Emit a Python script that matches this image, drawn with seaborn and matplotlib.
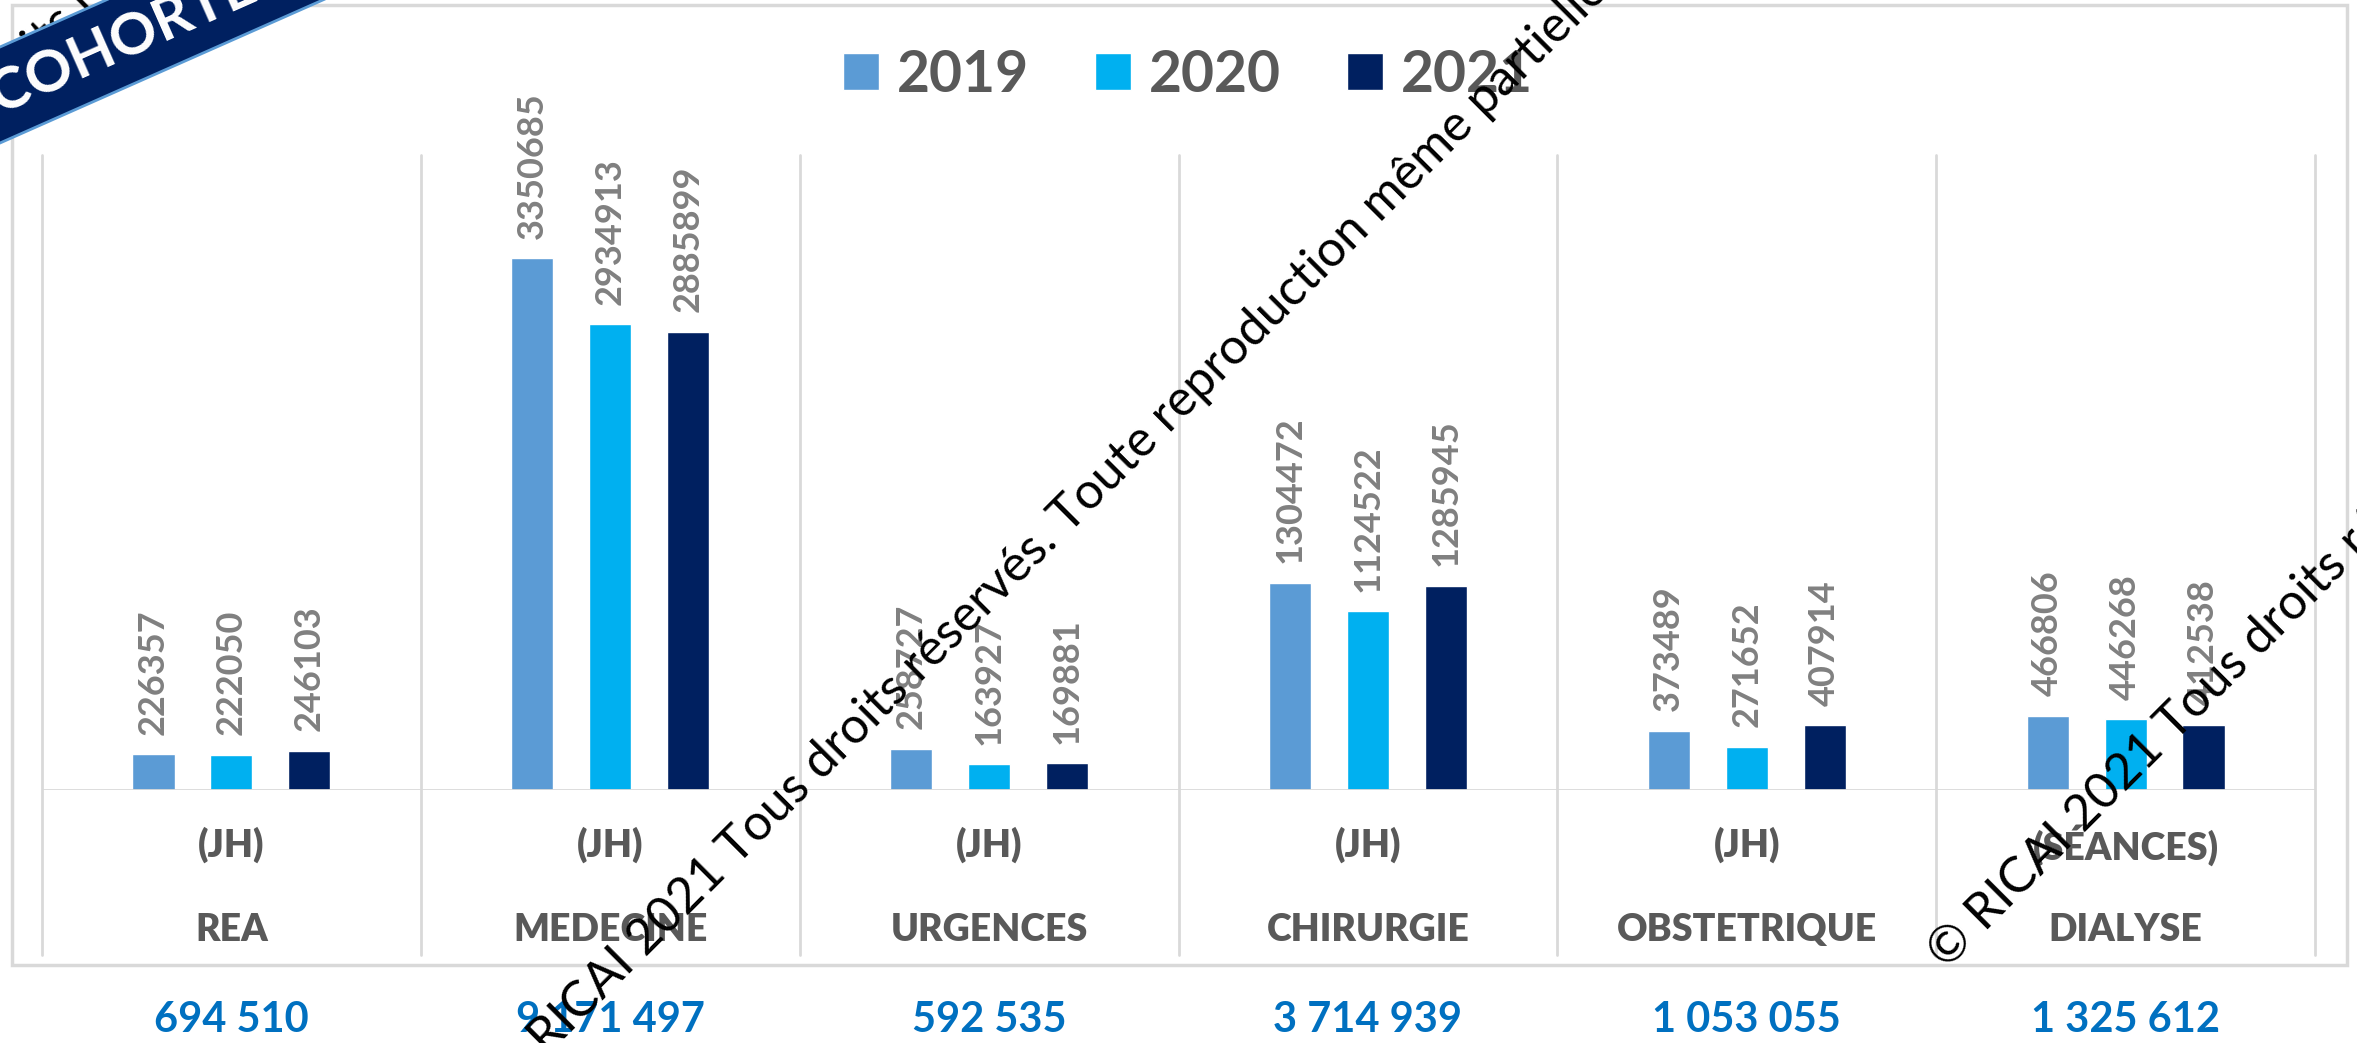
import numpy as np
import pandas as pd
import matplotlib
matplotlib.use("Agg")
import matplotlib.pyplot as plt
import seaborn as sns
from matplotlib.patches import Rectangle, Polygon
from matplotlib.lines import Line2D

# data
categories = ["REA", "MEDECINE", "URGENCES", "CHIRURGIE", "OBSTETRIQUE", "DIALYSE"]
units = ["(JH)", "(JH)", "(JH)", "(JH)", "(JH)", "(SÉANCES)"]
years = ["2019", "2020", "2021"]
values_2019 = [226357, 3350685, 258727, 1304472, 373489, 466806]
values_2020 = [222050, 2934913, 163927, 1124522, 271652, 446268]
values_2021 = [246103, 2885899, 169881, 1285945, 407914, 412538]
colors = ["#5B9BD5", "#00B0F0", "#002060"]

watermark = "© RICAI 2021 Tous droits réservés. Toute reproduction même partielle interdite"
banner_text = "COHORTE S"

rows = []
for year, vals in zip(years, [values_2019, values_2020, values_2021]):
    for cat, v in zip(categories, vals):
        rows.append({"category": cat, "year": year, "value": v})
df = pd.DataFrame(rows)
totals = df.groupby("category", sort=False)["value"].sum()

sns.set_style("white")
plt.rcParams["font.family"] = ["Lato", "DejaVu Sans"]

W, H = 2357, 1043
fig = plt.figure(figsize=(W / 100, H / 100), dpi=100)
fig.patch.set_facecolor("white")


def fx(x):
    return x / W


def fy(y):
    return 1 - y / H


ax_left, ax_right, ax_top, ax_base = 42, 2315, 155, 790
ax = fig.add_axes([fx(ax_left), fy(ax_base), fx(ax_right) - fx(ax_left), fy(ax_top) - fy(ax_base)])


def ay(y):
    # image pixel row -> axes fraction
    return (ax_base - y) / (ax_base - ax_top)


sns.barplot(data=df, x="category", y="value", hue="year", palette=colors,
            width=0.617, gap=0.46, saturation=1, errorbar=None, ax=ax)

ax.set_xlim(-0.5, 5.5)
ax.set_ylim(0, 4e6)
for s in ax.spines.values():
    s.set_visible(False)
ax.set_xticks([])
ax.set_yticks([])
ax.set_xlabel("")
ax.set_ylabel("")
ax.axhline(0, color="#d9d9d9", lw=2, zorder=1)

# category separators (multi-level axis)
for i in range(len(categories) + 1):
    ax.plot([i - 0.5, i - 0.5], [1, ay(955)], transform=ax.get_xaxis_transform(),
            color="#d9d9d9", lw=2, clip_on=False, zorder=0)

for cont in ax.containers:
    ax.bar_label(cont, labels=[f"{int(v)}" for v in cont.datavalues], rotation=90,
                 padding=14, fontsize=26, color="#808080", fontweight="bold")

for i, cat in enumerate(categories):
    ax.text(i, ay(845), units[i], transform=ax.get_xaxis_transform(), ha="center", va="center",
            fontsize=27, fontweight="heavy", color="#595959")
    ax.text(i, ay(930), cat, transform=ax.get_xaxis_transform(), ha="center", va="center",
            fontsize=27, fontweight="heavy", color="#595959")
    ax.text(i, ay(1020), f"{totals[cat]:,}".replace(",", " "), transform=ax.get_xaxis_transform(),
            ha="center", va="center", fontsize=30, fontweight="bold", color="#0070C0")

handles, labels = ax.get_legend_handles_labels()
ax.get_legend().remove()
fig.legend(handles, labels, loc="center", bbox_to_anchor=(fx(1188), fy(75)), ncol=3,
           frameon=False, prop=dict(family="Lato", weight="bold", size=41), labelcolor="#595959",
           handlelength=0.63, handleheight=0.63, handletextpad=0.32, columnspacing=1.16)

# outer chart border
fig.add_artist(Rectangle((fx(12), fy(965)), fx(2347) - fx(12), fy(5) - fy(965),
                         transform=fig.transFigure, fill=False, edgecolor="#d9d9d9", lw=2.5))

# diagonal copyright watermark
for x0, y0 in [(-323, 428), (509, 1095), (1947, 971)]:
    fig.text(fx(x0), fy(y0), watermark, rotation=45, rotation_mode="anchor", ha="left",
             va="baseline", fontsize=36, color="black", zorder=20)

# corner banner
up = [(-20, 47 + 0.443 * 20), ((47 + 20) / 0.443, -20)]
lo = [(-20, 143 + 0.443 * 20), ((143 + 20) / 0.443, -20)]
poly = [up[0], up[1], lo[1], lo[0]]
fig.add_artist(Polygon([(fx(x), fy(y)) for x, y in poly], closed=True, transform=fig.transFigure,
                       facecolor="#002060", edgecolor="none", zorder=30))
for seg in (up, lo):
    fig.add_artist(Line2D([fx(p[0]) for p in seg], [fy(p[1]) for p in seg],
                          transform=fig.transFigure, color="#5B9BD5", lw=2, zorder=31))
fig.text(fx(0), fy(115), banner_text, rotation=23.9, rotation_mode="anchor", ha="left",
         va="baseline", fontsize=42, fontweight="bold", color="white", zorder=32)

fig.savefig("out.png", dpi=100, facecolor="white")
